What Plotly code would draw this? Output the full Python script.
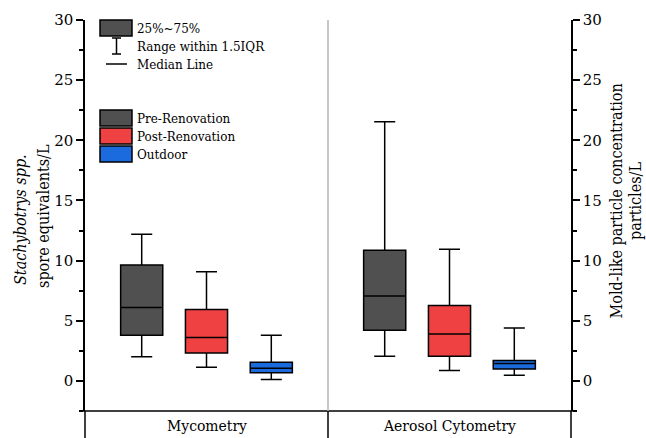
import plotly.graph_objects as go

methods = ["Mycometry", "Aerosol Cytometry"]
conditions = ["Pre-Renovation", "Post-Renovation", "Outdoor"]
colors = ["#505050", "#ef4141", "#1b6bde"]

# stats indexed [condition][method]
whisker_low = [[2.0, 2.05], [1.13, 0.86], [0.11, 0.47]]
q1 = [[3.8, 4.22], [2.33, 2.05], [0.67, 1.0]]
median = [[6.1, 7.05], [3.61, 3.89], [1.05, 1.44]]
q3 = [[9.63, 10.86], [5.94, 6.27], [1.55, 1.69]]
whisker_high = [[12.19, 21.55], [9.08, 10.94], [3.8, 4.39]]

y_ticks = [0, 5, 10, 15, 20, 25, 30]

FONT = "DejaVu Serif Condensed, DejaVu Serif, serif"
TICKFONT = "DejaVu Serif, serif"
W, H = 646, 438
L, R, T, B = 85, 75, 20, 27
PW, PH = W - L - R, H - T - B

def px(x, y):
    return (x - L) / PW, (H - B - y) / PH

group_gap = 3.75
fig = go.Figure()
for m, meth in enumerate(methods):
    for k, cond in enumerate(conditions):
        fig.add_trace(go.Box(
            x=[m * group_gap + (k - 1)],
            q1=[q1[k][m]], median=[median[k][m]], q3=[q3[k][m]],
            lowerfence=[whisker_low[k][m]], upperfence=[whisker_high[k][m]],
            boxpoints=False, width=0.65, whiskerwidth=0.5,
            fillcolor=colors[k], line=dict(color="black", width=1.5),
            name=cond, showlegend=False, hoverinfo="skip",
            yaxis="y" if m == 0 else "y2",
        ))

axis_common = dict(range=[-2.5, 30], tickvals=y_ticks, showline=True, linecolor="black",
                   linewidth=1.5, ticks="outside", ticklen=7, tickwidth=1.5, tickcolor="black",
                   showgrid=False, zeroline=False,
                   minor=dict(ticks="outside", ticklen=4, tickwidth=1.5, tickcolor="black", dtick=2.5, tick0=0),
                   tickfont=dict(family=TICKFONT, size=15, color="black"))

fig.update_layout(
    width=W, height=H, margin=dict(l=L, r=R, t=T, b=B),
    paper_bgcolor="white", plot_bgcolor="white", boxmode="overlay",
    xaxis=dict(range=[-1.875, 5.625], showticklabels=False, showgrid=False,
               zeroline=False, showline=False, ticks=""),
    yaxis=dict(**axis_common, side="left"),
    yaxis2=dict(**axis_common, side="right", overlaying="y"),
    font=dict(family=FONT, size=13, color="black"),
)

shapes = []
# bottom line
x0, y0 = px(82.5, 411); x1, _ = px(575, 411)
shapes.append(dict(type="line", xref="paper", yref="paper", x0=x0, x1=x1, y0=0, y1=0,
                   line=dict(color="black", width=1.5)))
# extensions of axes below plot
ybot = px(0, 440)[1]
for xp in [0, 1]:
    shapes.append(dict(type="line", xref="paper", yref="paper", x0=xp, x1=xp, y0=0, y1=ybot,
                       line=dict(color="black", width=1.5)))
div_x = group_gap / 2
shapes.append(dict(type="line", xref="x", yref="paper", x0=div_x, x1=div_x, y0=0, y1=ybot,
                   line=dict(color="black", width=1.5)))
shapes.append(dict(type="line", xref="x", yref="paper", x0=div_x, x1=div_x, y0=0, y1=1,
                   line=dict(color="#b4b4b4", width=1.5)))

def rect(xa, ya, xb, yb, fill):
    a, b = px(xa, ya); c, d = px(xb, yb)
    shapes.append(dict(type="rect", xref="paper", yref="paper", x0=a, y0=b, x1=c, y1=d,
                       fillcolor=fill, line=dict(color="black", width=1.5)))

def line(xa, ya, xb, yb):
    a, b = px(xa, ya); c, d = px(xb, yb)
    shapes.append(dict(type="line", xref="paper", yref="paper", x0=a, y0=b, x1=c, y1=d,
                       line=dict(color="black", width=1.5)))

# key legend
rect(100, 20, 132, 36, colors[0])
line(116.5, 38, 116.5, 54); line(112, 38, 121, 38); line(112, 54, 121, 54)
line(106, 64, 127, 64)
# condition legend
for k, (ya, yb) in enumerate([(110, 126), (128, 144), (146, 162)]):
    rect(100, ya, 132, yb, colors[k])

annotations = []
def text(t, xp, yp, size=13.3, xanchor="left", angle=0):
    a, b = px(xp, yp)
    annotations.append(dict(text=t, x=a, y=b, xref="paper", yref="paper", showarrow=False,
                            xanchor=xanchor, yanchor="middle", textangle=angle,
                            font=dict(family=FONT, size=size, color="black")))

text("25%~75%", 135, 29)
text("Range within 1.5IQR", 135, 46)
text("Median Line", 135, 64)
for k, yc in enumerate([118, 136, 154]):
    text(conditions[k], 135, yc)

# category labels
for m, meth in enumerate(methods):
    annotations.append(dict(text=meth, x=m * group_gap, xref="x", y=px(0, 426)[1], yref="paper",
                            showarrow=False, xanchor="center", yanchor="middle",
                            font=dict(family=FONT, size=15.5, color="black")))

text("<i>Stachybotrys spp.</i>", 21, 220, size=16, xanchor="center", angle=-90)
text("spore equivalents/L", 43, 216, size=16, xanchor="center", angle=-90)
text("Mold-like particle concentration", 616, 201.5, size=16, xanchor="center", angle=-90)
text("particles/L", 635, 201, size=16, xanchor="center", angle=-90)

fig.update_layout(shapes=shapes, annotations=annotations)
fig.write_html("out.html", config={"displayModeBar": False},
               post_script="document.body.style.margin='0';document.body.style.padding='0';")
